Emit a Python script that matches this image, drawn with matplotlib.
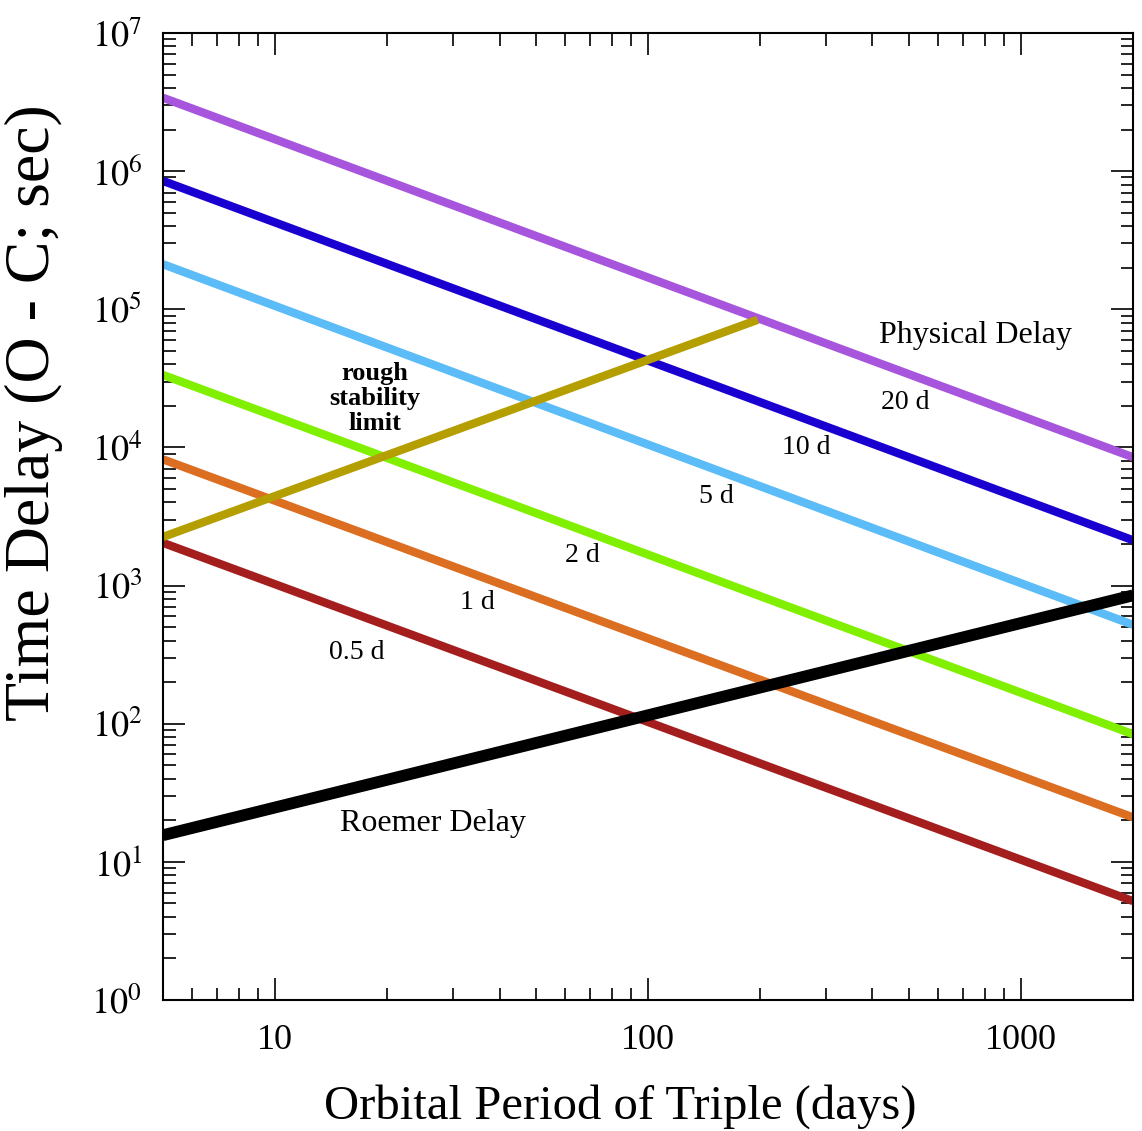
import math
import matplotlib.pyplot as plt
from matplotlib.ticker import FuncFormatter, LogLocator

plt.rcParams['font.family'] = ['Liberation Serif', 'DejaVu Serif']
plt.rcParams['mathtext.fontset'] = 'stix'

# end points (period in days, delay in sec)
period_ends = [5, 2000]
phys_labels = ['20 d', '10 d', '5 d', '2 d', '1 d', '0.5 d']
phys_colors = ['#a855dd', '#1a00d0', '#5bbcf7', '#80f000', '#dc6e22', '#a41e1e']
phys_start = [3.4e6, 8.5e5, 2.12e5, 3.35e4, 8.2e3, 2.04e3]
phys_end = [8.5e3, 2.13e3, 5.2e2, 84, 21, 5.2]

roemer_delay = [15.6, 850]

stab_period = [5, 197]
stab_delay = [2250, 8.4e4]

# label positions in data coords
phys_label_x = [491, 265, 153, 66.7, 34.9, 16.6]
phys_label_y = [2.13e4, 1.0e4, 4.44e3, 1.66e3, 7.6e2, 3.3e2]

fig = plt.figure(figsize=(11.42, 11.31), dpi=100)
ax = fig.add_axes([0.1427, 0.1158, 0.8494, 0.855])

for c, y0, y1 in zip(phys_colors, phys_start, phys_end):
    ax.plot(period_ends, [y0, y1], color=c, lw=6, solid_capstyle='butt')
ax.plot(stab_period, stab_delay, color='#b59e00', lw=6, solid_capstyle='butt')
ax.plot(period_ends, roemer_delay, color='black', lw=8.5, solid_capstyle='butt')

ax.set_xscale('log')
ax.set_yscale('log')
ax.set_xlim(5, 2000)
ax.set_ylim(1, 1e7)

ax.yaxis.set_major_locator(LogLocator(base=10, numticks=20))
ax.yaxis.set_minor_locator(LogLocator(base=10, subs=range(2, 10), numticks=20))
ax.yaxis.set_major_formatter(FuncFormatter(lambda v, p: r'$10^{%d}$' % round(math.log10(v))))
ax.xaxis.set_major_formatter(FuncFormatter(lambda v, p: '%d' % v))

ax.tick_params(which='both', direction='in', top=True, right=True, width=1.2)
ax.tick_params(which='major', length=16, labelsize=26)
ax.tick_params(which='minor', length=9)
ax.tick_params(axis='x', which='major', pad=17)
ax.tick_params(axis='y', which='major', pad=15)
for s in ax.spines.values():
    s.set_linewidth(1.5)

ax.set_xlabel('Orbital Period of Triple (days)', fontsize=35)
ax.xaxis.set_label_coords(0.471, -0.087)
ax.set_ylabel('Time Delay (O - C; sec)', fontsize=46)
ax.yaxis.set_label_coords(-0.103, 0.607)

for lab, x, y in zip(phys_labels, phys_label_x, phys_label_y):
    ax.text(x, y, lab, fontsize=20, ha='center', va='center')
ax.text(757, 6.5e4, 'Physical Delay', fontsize=23, ha='center', va='center')
ax.text(26.5, 19, 'Roemer Delay', fontsize=23, ha='center', va='center')
ax.text(18.5, 2.27e4, 'rough\nstability\nlimit', fontsize=19, fontweight='bold',
        ha='center', va='center', linespacing=1.12)

fig.savefig('out.png', dpi=100)
